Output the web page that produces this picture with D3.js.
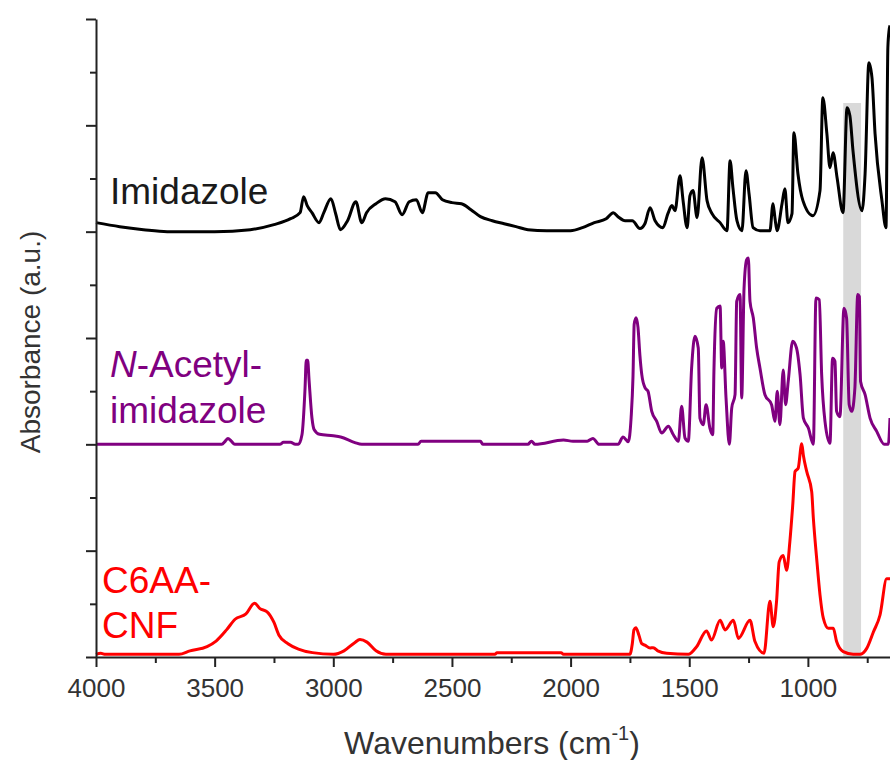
<!DOCTYPE html>
<html>
<head>
<meta charset="utf-8">
<script src="https://cdn.jsdelivr.net/npm/d3@7"></script>
<style>
    body { margin: 0; background: #fff; }
    #chart-area text { font-family: "Liberation Sans", Arial, sans-serif; }
</style>
</head>
<body>
<div id="chart-area"></div>
<script>
/* * * * * * * * * * * * * *
*     FTIR spectra, stacked     *
* * * * * * * * * * * * * */

// [wavenumber (cm-1), absorbance], each spectrum before stacking
const imidazoleSpectrum = [
    [4000,0.085],[3900,0.047],[3800,0.019],[3700,0],[3500,0],[3350,0.019],[3250,0.066],[3180,0.122],
    [3140,0.179],[3125,0.329],[3110,0.245],[3090,0.179],[3060,0.085],[3040,0.179],[3010,0.31],[2990,0.169],
    [2970,0.019],[2940,0.103],[2905,0.282],[2880,0.085],[2860,0.179],[2820,0.263],[2780,0.31],[2740,0.282],
    [2710,0.16],[2680,0.282],[2650,0.301],[2625,0.179],[2600,0.367],[2570,0.367],[2540,0.301],[2500,0.273],
    [2460,0.263],[2420,0.207],[2380,0.141],[2330,0.103],[2280,0.075],[2230,0.047],[2180,0.019],[2100,0.009],
    [2000,0.009],[1950,0.038],[1900,0.085],[1850,0.122],[1820,0.179],[1800,0.141],[1770,0.103],[1740,0.103],
    [1708,0.03],[1687,0.075],[1665,0.226],[1644,0.103],[1611,0.038],[1590,0.169],[1573,0.245],[1560,0.197],
    [1539,0.527],[1526,0.292],[1509,0.038],[1497,0.339],[1484,0.386],[1467,0.132],[1446,0.696],[1425,0.292],
    [1404,0.169],[1370,0.085],[1341,0.009],[1328,0.668],[1316,0.414],[1299,0.103],[1278,0.009],[1261,0.574],
    [1248,0.357],[1231,0.038],[1202,0.009],[1160,0.009],[1147,0.263],[1139,0.132],[1130,0.009],[1109,0.263],
    [1097,0.404],[1084,0.085],[1067,0.169],[1059,0.931],[1042,0.545],[1021,0.292],[979,0.15],[949,0.386],
    [937,1.26],[920,0.922],[907,0.602],[894,0.743],[877,0.508],[852,0.179],[835,1.166],[823,1.091],
    [810,0.762],[772,0.197],[759,0.545],[743,1.589],[730,1.448],[717,0.922],[688,0.292],[671,0.038],
    [663,1.73],[658,1.89],[654,1.94]
];

const acetylImidazoleSpectrum = [
    [4000,0],[3470,0],[3455,0.03],[3444,0.056],[3430,0.03],[3415,0],[3225,0],[3210,0.02],[3180,0.02],
    [3160,0],[3147,0],[3132,0.09],[3119,0.53],[3114,0.79],[3108,0.79],[3102,0.6],[3090,0.25],[3081,0.14],
    [3058,0.094],[3000,0.08],[2969,0.069],[2909,0.016],[2880,0],[2643,0],[2630,0.03],[2483,0.03],[2460,0.03],
    [2380,0.03],[2370,0],[2180,0],[2165,0.03],[2150,0],[2030,0.04],[1990,0.03],[1930,0.03],[1906,0.056],
    [1880,0],[1800,0],[1779,0.07],[1757,0.025],[1745,0.25],[1737,0.64],[1732,1.13],[1724,1.19],[1716,1.1],
    [1708,0.84],[1700,0.655],[1686,0.53],[1674,0.5],[1658,0.31],[1637,0.216],[1616,0.106],[1588,0.17],
    [1567,0.09],[1546,0.028],[1532,0.357],[1518,0.06],[1504,0.03],[1490,0.718],[1476,1.016],[1462,0.906],
    [1455,0.247],[1441,0.185],[1429,0.373],[1413,0.153],[1401,0.09],[1396,0.687],[1384,1.28],[1370,1.3],
    [1363,0.718],[1357,0.97],[1345,0.436],[1331,0],[1321,0.34],[1307,0.467],[1300,1.345],[1286,1.408],
    [1279,0.436],[1269,1.47],[1258,1.737],[1251,1.752],[1244,1.345],[1230,1.188],[1216,0.906],[1202,0.718],
    [1181,0.467],[1153,0.373],[1139,0.216],[1129,0.5],[1118,0.185],[1104,0.7],[1094,0.373],[1083,0.59],
    [1064,0.97],[1048,0.906],[1033,0.655],[1019,0.247],[998,0.153],[977,0],[966,1.376],[952,1.36],
    [942,0.655],[928,0.216],[907,0.01],[896,0.81],[886,0.78],[879,0.31],[865,0.26],[848,1.28],[837,1.188],
    [826,0.373],[815,0.31],[802,0.53],[790,1.408],[783,1.39],[778,0.59],[759,0.467],[738,0.247],[710,0.122],
    [678,0],[661,0],[654,0.247]
];

const c6aaCnfSpectrum = [
    [4000,0],[3980,0.01],[3960,0],[3650,0],[3604,0.033],[3532,0.073],[3494,0.125],[3450,0.23],[3414,0.33],
    [3368,0.38],[3332,0.48],[3309,0.43],[3279,0.4],[3250,0.3],[3229,0.18],[3191,0.1],[3147,0.05],[3088,0.016],
    [2999,0],[2955,0.033],[2910,0.11],[2888,0.139],[2858,0.115],[2820,0.033],[2778,0],[2319,0],[2310,0.016],
    [2040,0.016],[2030,0],[1750,0],[1740,0.1],[1733,0.23],[1725,0.25],[1712,0.18],[1700,0.1],[1687,0.087],
    [1665,0.06],[1652,0.063],[1630,0.03],[1595,0.01],[1504,0],[1469,0.072],[1427,0.22],[1406,0.135],
    [1370,0.32],[1349,0.23],[1314,0.32],[1293,0.15],[1244,0.32],[1223,0.12],[1185,0.01],[1160,0.5],
    [1146,0.26],[1132,0.5],[1121,0.87],[1104,0.93],[1090,0.79],[1076,1.06],[1064,1.4],[1054,1.72],
    [1041,1.75],[1026,1.98],[1019,1.87],[1005,1.72],[984,1.53],[977,1.28],[963,0.9],[949,0.56],[935,0.34],
    [914,0.245],[893,0.245],[879,0.12],[851,0.025],[809,0],[781,0],[752,0.056],[724,0.21],[696,0.37],
    [668,0.71],[654,0.71]
];

// vertical offsets used to stack the spectra
const seriesOffsets = [4, 2, 0.025];
const seriesLabels = [["Imidazole"], ["N-Acetyl-", "imidazole"], ["C6AA-", "CNF"]];

const xTickValues = [4000, 3500, 3000, 2500, 2000, 1500, 1000];
const xMinorTickValues = [3750, 3250, 2750, 2250, 1750, 1250, 750];
const yTickValues = [0, 1, 2, 3, 4, 5, 6];
const yMinorTickValues = [0.5, 1.5, 2.5, 3.5, 4.5, 5.5];

// shaded band (cm-1) and its height
const highlightBand = [851, 776];
const highlightTop = 5.21;


class spectraVis {
    constructor(parentElement, spectra){
        this.parentElement = parentElement;
        this.spectra = spectra;
        this.initVis();
    }

    initVis(){
        let vis = this;
        vis.width = 890;
        vis.height = 760;

        vis.svg = d3.select("#" + vis.parentElement).append("svg")
            .attr("width", vis.width)
            .attr("height", vis.height);

        // scales (x reversed, like every IR plot)
        vis.x = d3.scaleLinear().domain([4000, 654]).range([96, 890]);
        vis.y = d3.scaleLinear().domain([0, 6]).range([657, 19]);

        vis.colors = ["#000000", "#800080", "#ff0000"];

        vis.wrangleData();
    }

    wrangleData(){
        let vis = this;
        vis.stacked = vis.spectra.map((s, i) => s.map(d => ({wn: d[0], a: d[1] + seriesOffsets[i]})));
        vis.updateVis();
    }

    updateVis(){
        let vis = this;

        // grey band behind the lines
        vis.svg.append("rect")
            .attr("x", vis.x(highlightBand[0]))
            .attr("y", vis.y(highlightTop))
            .attr("width", vis.x(highlightBand[1]) - vis.x(highlightBand[0]))
            .attr("height", vis.y(0) - vis.y(highlightTop))
            .attr("fill", "#d9d9d9");

        let line = d3.line()
            .x(d => vis.x(d.wn))
            .y(d => vis.y(d.a))
            .curve(d3.curveMonotoneX);

        vis.svg.selectAll(".spectrum")
            .data(vis.stacked)
            .enter().append("path")
            .attr("class", "spectrum")
            .attr("d", line)
            .attr("fill", "none")
            .attr("stroke", (d, i) => vis.colors[i])
            .attr("stroke-width", 3)
            .attr("stroke-linejoin", "round");

        // axes
        let axisColor = "#222";
        let xAxis = d3.axisBottom(vis.x).tickValues(xTickValues).tickSize(10).tickSizeOuter(0)
            .tickPadding(12).tickFormat(d3.format("d"));
        let xMinor = d3.axisBottom(vis.x).tickValues(xMinorTickValues).tickSize(6).tickFormat("");
        let yAxis = d3.axisLeft(vis.y).tickValues(yTickValues).tickSize(10).tickSizeOuter(0).tickFormat("");
        let yMinor = d3.axisLeft(vis.y).tickValues(yMinorTickValues).tickSize(6).tickFormat("");

        let gx = vis.svg.append("g").attr("transform", `translate(0, ${vis.y(0)})`).call(xAxis);
        vis.svg.append("g").attr("transform", `translate(0, ${vis.y(0)})`).call(xMinor)
            .select(".domain").remove();
        vis.svg.append("g").attr("transform", `translate(${vis.x(4000)}, 0)`).call(yAxis);
        vis.svg.append("g").attr("transform", `translate(${vis.x(4000)}, 0)`).call(yMinor)
            .select(".domain").remove();

        vis.svg.selectAll(".domain, .tick line")
            .attr("stroke", axisColor)
            .attr("stroke-width", 2);

        gx.selectAll("text")
            .attr("font-size", 26)
            .attr("fill", "#333");

        // axis titles
        let xTitle = vis.svg.append("text")
            .attr("x", 492)
            .attr("y", 754)
            .attr("text-anchor", "middle")
            .attr("font-size", 32)
            .attr("fill", "#333");
        xTitle.append("tspan").text("Wavenumbers (cm");
        xTitle.append("tspan").attr("font-size", 20).attr("dy", -14).text("-1");
        xTitle.append("tspan").attr("dy", 14).text(")");

        vis.svg.append("text")
            .attr("transform", "translate(40, 342) rotate(-90)")
            .attr("text-anchor", "middle")
            .attr("font-size", 28)
            .attr("fill", "#333")
            .text("Absorbance (a.u.)");

        // series labels
        let labelPos = [[110, [204]], [110, [377, 423]], [102, [593, 638]]];
        let labelColors = ["#1a1a1a", "#800080", "#ff0000"];
        seriesLabels.forEach((lines, i) => {
            lines.forEach((txt, j) => {
                let t = vis.svg.append("text")
                    .attr("x", labelPos[i][0])
                    .attr("y", labelPos[i][1][j])
                    .attr("font-size", 37)
                    .attr("fill", labelColors[i]);
                if (txt.startsWith("N-")) {
                    t.append("tspan").attr("font-style", "italic").text("N");
                    t.append("tspan").text(txt.slice(1));
                } else {
                    t.text(txt);
                }
            });
        });
    }
}

new spectraVis("chart-area", [imidazoleSpectrum, acetylImidazoleSpectrum, c6aaCnfSpectrum]);
</script>
</body>
</html>
